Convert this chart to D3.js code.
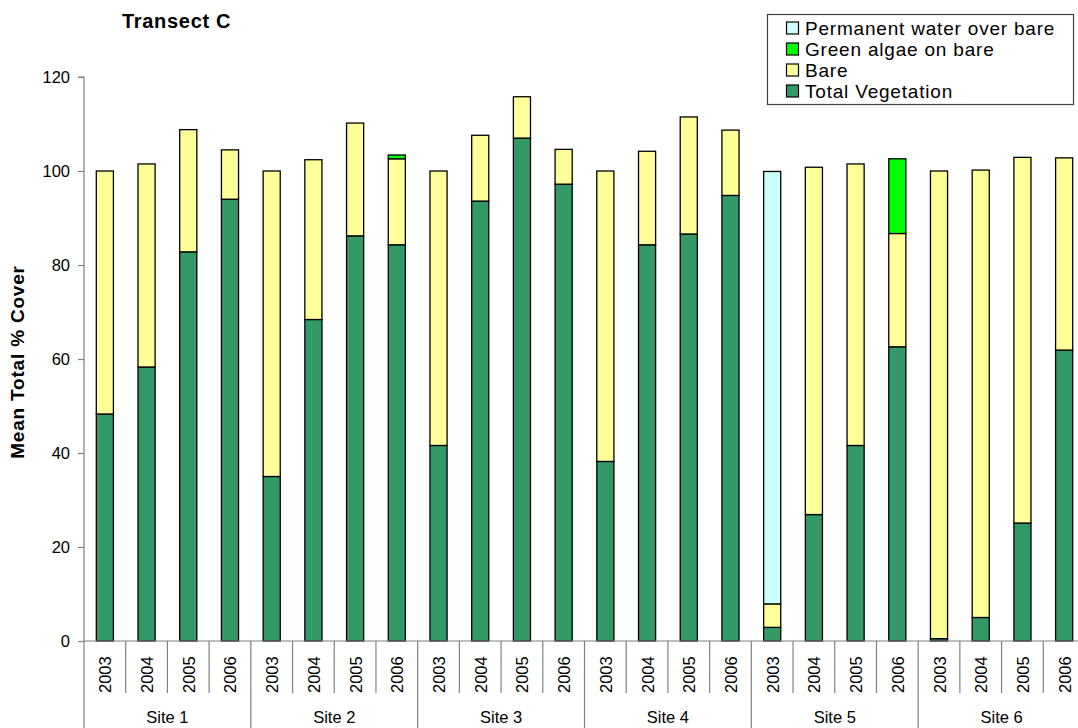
<!DOCTYPE html>
<html>
<head>
<meta charset="utf-8">
<script src="https://cdn.jsdelivr.net/npm/d3@7"></script>
<style>
  html, body { margin: 0; padding: 0; background: #fff; }
  svg { display: block; font-family: "Liberation Sans", Arial, sans-serif; }
</style>
</head>
<body>
<svg id="chart" width="1078" height="728"></svg>
<script>
// ---- Data ----
const sites = ["Site 1", "Site 2", "Site 3", "Site 4", "Site 5", "Site 6"];
const years = ["2003", "2004", "2005", "2006"];
const seriesNames = ["Total Vegetation", "Bare", "Green algae on bare", "Permanent water over bare"];
const vegetation = [48.3, 58.3, 82.8, 94.0,  35.0, 68.4, 86.2, 84.3,  41.6, 93.6, 107.0, 97.2,  38.2, 84.3, 86.6, 94.8,  2.9, 26.9, 41.6, 62.6,  0.5, 5.0, 25.1, 61.9];
const bare       = [51.7, 43.2, 26.0, 10.5,  65.0, 34.0, 24.0, 18.3,  58.4, 14.0, 8.8, 7.4,  61.8, 19.9, 24.9, 13.9,  5.0, 73.9, 59.9, 24.1,  99.5, 95.2, 77.8, 40.9];
const algae      = [0, 0, 0, 0,  0, 0, 0, 0.8,  0, 0, 0, 0,  0, 0, 0, 0,  0, 0, 0, 15.9,  0, 0, 0, 0];
const water      = [0, 0, 0, 0,  0, 0, 0, 0,  0, 0, 0, 0,  0, 0, 0, 0,  92.0, 0, 0, 0,  0, 0, 0, 0];
const yTicks = [0, 20, 40, 60, 80, 100, 120];
const colors = ["#339966", "#FFFF99", "#00FF00", "#CCFFFF"];

// ---- Build table ----
const cats = [];
sites.forEach((s, i) => years.forEach((y, j) => cats.push({ key: s + "|" + y, site: s, year: y, idx: i * 4 + j })));
const rows = cats.map(c => ({
  key: c.key,
  "Total Vegetation": vegetation[c.idx],
  "Bare": bare[c.idx],
  "Green algae on bare": algae[c.idx],
  "Permanent water over bare": water[c.idx]
}));
const stack = d3.stack().keys(seriesNames)(rows);

// ---- Layout ----
const svg = d3.select("#chart");
const x0 = 84, x1 = 1085, yBase = 641, yTop = 77;
const x = d3.scaleBand().domain(cats.map(c => c.key)).range([x0, x1]).paddingInner(0.59).paddingOuter(0.295);
const slot = d3.scaleBand().domain(cats.map(c => c.key)).range([x0, x1]).padding(0);
const siteScale = d3.scaleBand().domain(sites).range([x0, x1]).padding(0);
const y = d3.scaleLinear().domain([0, 120]).range([yBase, yTop]);

// ---- Bars ----
const g = svg.append("g");
stack.forEach((layer, li) => {
  g.selectAll(null)
    .data(layer.filter(d => d[1] - d[0] > 0))
    .enter().append("rect")
    .attr("x", d => x(d.data.key))
    .attr("width", x.bandwidth())
    .attr("y", d => y(d[1]))
    .attr("height", d => y(d[0]) - y(d[1]))
    .attr("fill", colors[li])
    .attr("stroke", "#000")
    .attr("stroke-width", 1.3);
});

// ---- Y axis ----
const yAxis = d3.axisLeft(y).tickValues(yTicks).tickSize(6).tickPadding(8);
const ya = svg.append("g").attr("transform", `translate(${x0},0)`).call(yAxis);
ya.select(".domain").attr("stroke", "#808080").attr("stroke-width", 1.2).attr("d", `M-6,${yTop}H0V${yBase}`);
ya.selectAll(".tick line").attr("stroke", "#808080").attr("stroke-width", 1.2);
ya.selectAll(".tick text").attr("font-size", 16.5).attr("fill", "#000").attr("font-family", "Liberation Sans, Arial, sans-serif");

// ---- X axis (two-level) ----
const xa = svg.append("g");
xa.append("line").attr("x1", x0).attr("x2", 1078).attr("y1", yBase).attr("y2", yBase).attr("stroke", "#808080").attr("stroke-width", 1.2);
// year separators
cats.forEach(c => {
  if (c.idx % 4 !== 0) {
    xa.append("line").attr("x1", slot(c.key)).attr("x2", slot(c.key)).attr("y1", yBase).attr("y2", 693).attr("stroke", "#808080").attr("stroke-width", 1.2);
  }
});
// site separators
sites.forEach(s => {
  xa.append("line").attr("x1", siteScale(s)).attr("x2", siteScale(s)).attr("y1", yBase).attr("y2", 728).attr("stroke", "#808080").attr("stroke-width", 1.2);
});
// year labels
xa.selectAll(null).data(cats).enter().append("text")
  .attr("transform", d => `translate(${slot(d.key) + slot.bandwidth() / 2 + 6.5},693) rotate(-90)`)
  .attr("font-size", 16.5)
  .attr("text-anchor", "start")
  .text(d => d.year);
// site labels
xa.selectAll(null).data(sites).enter().append("text")
  .attr("x", d => siteScale(d) + siteScale.bandwidth() / 2)
  .attr("y", 723)
  .attr("font-size", 16.5)
  .attr("text-anchor", "middle")
  .text(d => d);

// ---- Titles ----
svg.append("text").attr("x", 122).attr("y", 28).attr("font-size", 20).attr("letter-spacing", 0.7)
  .attr("font-weight", "bold").text("Transect C");
svg.append("text").attr("transform", "translate(24,362) rotate(-90)").attr("text-anchor", "middle")
  .attr("font-size", 19).attr("letter-spacing", 0.8).attr("font-weight", "bold").text("Mean Total % Cover");

// ---- Legend ----
const lg = svg.append("g");
lg.append("rect").attr("x", 767.5).attr("y", 14.5).attr("width", 306).attr("height", 90).attr("fill", "#fff").attr("stroke", "#404040").attr("stroke-width", 1.2);
const legendOrder = [3, 2, 1, 0];
legendOrder.forEach((si, i) => {
  const cy = 28 + i * 21;
  lg.append("rect").attr("x", 786.5).attr("y", cy - 6).attr("width", 12).attr("height", 12).attr("fill", colors[si]).attr("stroke", "#000").attr("stroke-width", 1.2);
  lg.append("text").attr("x", 805).attr("y", cy + 7).attr("font-size", 19).attr("letter-spacing", 0.8).text(seriesNames[si]);
});
</script>
</body>
</html>
